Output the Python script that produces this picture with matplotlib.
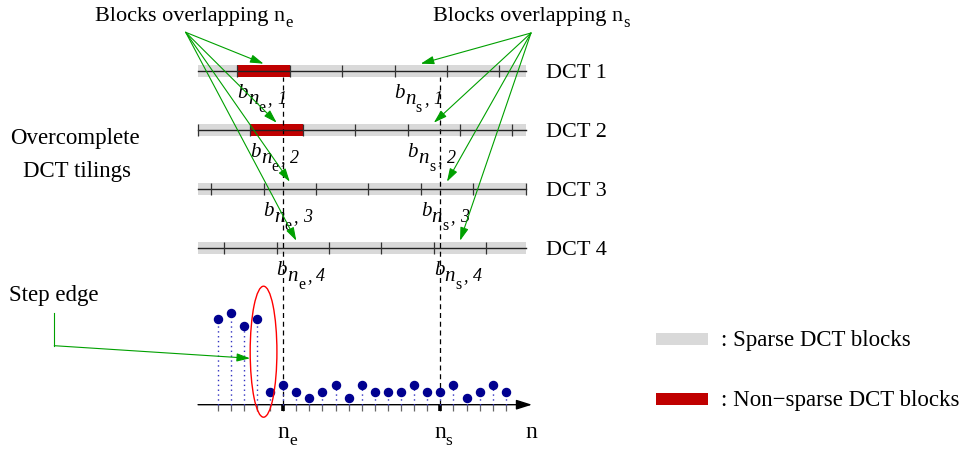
import numpy as np
import matplotlib
matplotlib.use("Agg")
import matplotlib.pyplot as plt
from matplotlib.patches import Rectangle, Ellipse

plt.rcParams["font.family"] = ["Liberation Serif", "DejaVu Serif"]

# ---- signal with a step edge -------------------------------------------
signal = [86, 92, 79, 86, 13, 20, 13, 7, 13, 20, 7, 20, 13, 13, 13, 20,
          13, 13, 20, 7, 13, 20, 13]
n_e = 5          # step edge location
n_s = 17         # a location inside the smooth part

# ---- overcomplete DCT tilings ------------------------------------------
block_len = 4
tiling_names = ["DCT 1", "DCT 2", "DCT 3", "DCT 4"]
tiling_offsets = [1.5, 2.5, 3.5, 0.5]      # first block boundary of each tiling
tiling_rows = [334, 275, 216, 157]          # vertical position of each tiling
tiling_span = (-1.5, 23.5)
nonsparse_tilings = [0, 1]                  # tilings whose n_e block is non-sparse
ne_arrow_x = [3.5, 4.5, 5.5, 6.0]
ns_arrow_x = [15.5, 16.5, 17.5, 18.5]

GRAY = "#d9d9d9"
RED = "#c00000"
GREEN = "#00a000"
NAVY = "#000090"
STEM = "#3030c0"

fig = plt.figure(figsize=(9.69, 4.52), dpi=100)
ax = fig.add_axes([0, 0, 1, 1])
ax.axis("off")
renderer = fig.canvas.get_renderer()

# sample-index units horizontally, pixel units vertically (0 on the n axis)
X0, DX, Y0 = 217.7, 13.1, 405.7
def px_x(p):
    return (p - X0) / DX
def px_y(p):
    return Y0 - p

ax.set_xlim(px_x(0), px_x(969))
ax.set_ylim(px_y(452), px_y(0))


def compose(x_px, base_px, parts, **kw):
    """Lay out text pieces left to right: (text, size, style, drop, gap)."""
    x = x_px
    for s, size, style, drop, gap in parts:
        t = ax.text(px_x(x + gap), px_y(base_px + drop), s, fontsize=size,
                    style=style, ha="left", va="baseline", **kw)
        x = x + gap + t.get_window_extent(renderer).width


def block_label(x_data, base_px, sub, idx):
    x_px = X0 + x_data * DX
    compose(x_px, base_px, [
        ("b", 15, "italic", 0, 0),
        ("n", 15, "italic", 5.7, 0.3),
        (sub, 11.5, "normal", 13.4, 0),
        (",", 13, "italic", 5.7, 2.0),
        (str(idx), 13, "italic", 5.7, 5.0),
    ], zorder=4)


band_h = 11.7

def block_start(pos, offset):
    return offset + block_len * np.floor((pos - offset) / block_len)

for k, (name, off, y) in enumerate(zip(tiling_names, tiling_offsets, tiling_rows)):
    ax.add_patch(Rectangle((tiling_span[0], y - band_h / 2),
                           tiling_span[1] - tiling_span[0], band_h,
                           fc=GRAY, ec="none", zorder=1))
    ne_start = block_start(n_e, off)
    ns_start = block_start(n_s, off)
    if k in nonsparse_tilings:
        ax.add_patch(Rectangle((ne_start, y - band_h / 2), block_len, band_h,
                               fc=RED, ec="none", zorder=2))
    bounds = off + block_len * np.arange(-3, 8)
    bounds = bounds[(bounds >= tiling_span[0] - 1e-6) & (bounds <= tiling_span[1] + 1e-6)]
    ax.plot(tiling_span, [y, y], color="#222222", lw=1.0, zorder=3)
    ax.vlines(bounds, y - 6, y + 6, color="#333333", lw=0.9, zorder=3)
    ax.text(px_x(546), y - 6.6, name, ha="left", va="baseline", fontsize=16)
    base = Y0 - (y - 26.6)
    block_label(ne_start, base, "e", k + 1)
    block_label(ns_start, base, "s", k + 1)

# dashed guides from the tilings down to the samples
ax.vlines([n_e, n_s], 0, tiling_rows[0] - band_h / 2, colors="k",
          linestyles=(0, (4, 3)), lw=0.9, zorder=2)

# green pointers from the headings to the overlapping blocks
src_l = (px_x(185.7), px_y(33.3))
src_r = (px_x(531.0), px_y(34.0))
arrow_kw = dict(arrowstyle="-|>,head_length=0.8,head_width=0.25", color=GREEN,
                lw=0.8, shrinkA=0, shrinkB=0, mutation_scale=10)
for tx, y in zip(ne_arrow_x, tiling_rows):
    ax.annotate("", xy=(tx, y + 7), xytext=src_l, arrowprops=arrow_kw, zorder=5)
for tx, y in zip(ns_arrow_x, tiling_rows):
    ax.annotate("", xy=(tx, y + 7), xytext=src_r, arrowprops=arrow_kw, zorder=5)

compose(95, 21, [("Blocks overlapping n", 16, "normal", 0, 0), ("e", 12, "normal", 6, 0)])
compose(433, 21, [("Blocks overlapping n", 16, "normal", 0, 0), ("s", 12, "normal", 6, 0)])

ax.text(px_x(75), px_y(144.3), "Overcomplete", ha="center", va="baseline", fontsize=16.5)
ax.text(px_x(77.5), px_y(176.7), "DCT tilings", ha="center", va="baseline", fontsize=16.5)

# ---- the signal --------------------------------------------------------
n = np.arange(len(signal))
ax.vlines(n, -6, 0, colors="#666666", lw=0.9, zorder=2)
ax.vlines([n_e, n_s], -6, 0, colors="k", lw=2.6, zorder=2)
ax.annotate("", xy=(px_x(532), 0), xytext=(tiling_span[0], 0),
            arrowprops=dict(arrowstyle="-|>,head_length=0.95,head_width=0.3",
                            color="k", lw=1.0, shrinkA=0, shrinkB=0,
                            mutation_scale=10), zorder=3)
ax.vlines(n, 0, signal, colors=STEM, linestyles=(0, (1, 2.5)), lw=1.0, zorder=3)
ax.plot(n, signal, "o", color=NAVY, ms=5.8, mec=NAVY, zorder=5)

ax.add_patch(Ellipse((3.5, 53), width=2.04, height=131, fill=False,
                     ec="red", lw=1.0, zorder=6))

compose(277.3, 437.7, [("n", 17, "normal", 0, 0), ("e", 12.5, "normal", 7, 0)])
compose(434.0, 437.7, [("n", 17, "normal", 0, 0), ("s", 12.5, "normal", 7, 0)])
ax.text(px_x(525.7), px_y(437.7), "n", ha="left", va="baseline", fontsize=17)

# step edge pointer
ax.text(px_x(9), px_y(301), "Step edge", ha="left", va="baseline", fontsize=16.5)
ax.plot([px_x(54.3), px_x(54.3)], [px_y(314), px_y(346.7)], color=GREEN, lw=0.8)
ax.annotate("", xy=(px_x(250), px_y(359.3)), xytext=(px_x(54.3), px_y(346.7)),
            arrowprops=arrow_kw, zorder=5)

# ---- legend ------------------------------------------------------------
legend_items = [(GRAY, ": Sparse DCT blocks", 334), (RED, ": Non\u2212sparse DCT blocks", 394)]
for color, label, top in legend_items:
    ax.add_patch(Rectangle((px_x(656), px_y(top + 11.5)), (708 - 656) / DX, 11.5,
                           fc=color, ec="none"))
    ax.text(px_x(721), px_y(top + 12.5), label, ha="left", va="baseline", fontsize=16.5)

fig.savefig("out.png", dpi=100)
